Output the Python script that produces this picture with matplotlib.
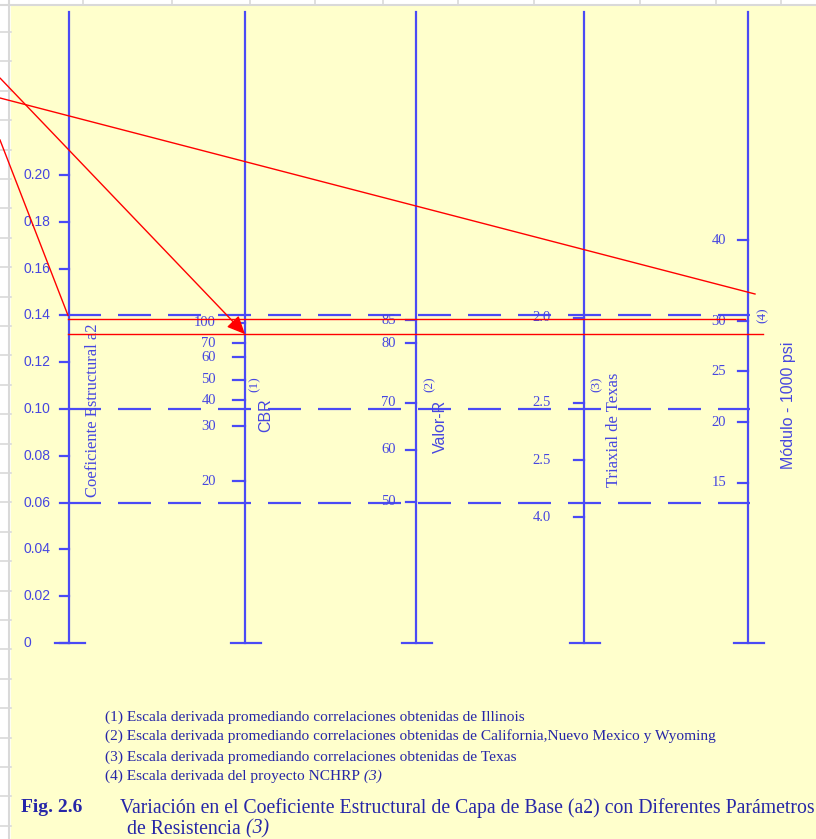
import matplotlib.pyplot as plt
import numpy as np

# nomograph scales: each tick value with its equivalent a2 on the common vertical
a2_ticks = [0, 0.02, 0.04, 0.06, 0.08, 0.10, 0.12, 0.14, 0.16, 0.18, 0.20]
a2_labels = ['0', '0.02', '0.04', '0.06', '0.08', '0.10', '0.12', '0.14',
             '0.16', '0.18', '0.20']

cbr_labels = ['100', '70', '60', '50', '40', '30', '20']
cbr_a2 = [0.1368, 0.1282, 0.1222, 0.1124, 0.1038, 0.0927, 0.0692]

valor_r_labels = ['85', '80', '70', '60', '50']
valor_r_a2 = [0.1380, 0.1282, 0.1026, 0.0825, 0.0603]

texas_labels = ['2.0', '2.5', '2.5', '4.0']
texas_a2 = [0.1389, 0.1026, 0.0782, 0.0538]

modulo_labels = ['40', '30', '25', '20', '15']
modulo_a2 = [0.1722, 0.1376, 0.1162, 0.0944, 0.0684]

ref_a2 = [0.06, 0.10, 0.14]

# worked example (red construction lines)
example_a2 = 0.132
example_a2_top = 0.1385

footnotes = [
    '(1) Escala derivada promediando correlaciones obtenidas de Illinois',
    '(2) Escala derivada promediando correlaciones obtenidas de California,Nuevo Mexico y Wyoming',
    '(3) Escala derivada promediando correlaciones obtenidas de Texas',
    '(4) Escala derivada del proyecto NCHRP',
]

W, H = 816, 839
Y0, SCALE = 643, 2340.0   # pixel row of a2 = 0, pixels per unit a2


def row(y):
    return (Y0 - y) / SCALE


fig = plt.figure(figsize=(W / 100, H / 100), dpi=100)
fig.patch.set_facecolor('white')
ax = fig.add_axes([0, 0, 1, 1])
ax.set_xlim(0, W)
ax.set_ylim(row(H), row(0))
ax.axis('off')

# sheet background
ax.fill_between([11, W], row(H), row(5), color='#ffffcc', zorder=0)
ax.plot([0, W], [row(4.5)] * 2, color='#d9d9d9', lw=1.5, zorder=1)
ax.plot([8.5, 8.5], [row(0), row(H)], color='#d9d9d9', lw=1.5, zorder=1)
for xc in [83, 172, 250, 315, 383, 458, 534, 640, 716, 781]:
    ax.plot([xc, xc], [row(0), row(4)], color='#d9d9d9', lw=1.2, zorder=1)
for yr in np.arange(32, H, 29.4):
    ax.plot([0, 11], [row(yr)] * 2, color='#d9d9d9', lw=1.2, zorder=1)

blue = '#4a4af5'
tick_blue = '#4646e0'
text_blue = '#2626a8'
axis_x = [69, 245, 416, 584, 748]
top = row(12)

for x in axis_x:
    ax.plot([x, x], [0.0, top], color=blue, lw=1.6, zorder=3)
    ax.plot([x - 14, x + 16], [0.0, 0.0], color=blue, lw=1.6, zorder=3)

# dashed reference lines (33 px dash, 17 px gap, phase set so a dash starts at x=68)
for v in ref_a2:
    ax.plot([60, 750], [v, v], color=blue, lw=1.6, zorder=2,
            linestyle=(18.9, (14.85, 7.65)))

# a2 scale
for v, lab in zip(a2_ticks, a2_labels):
    ax.plot([60, 69], [v, v], color=blue, lw=1.6, zorder=3)
    ax.text(23, v, lab, ha='left', va='center', fontsize=10,
            family='Liberation Sans', color=tick_blue)


def side_scale(x, values, labels, label_right, tick_len):
    for v, lab in zip(values, labels):
        ax.plot([x - tick_len, x], [v, v], color=blue, lw=1.6, zorder=3)
        ax.text(label_right, v, lab, ha='right', va='center', fontsize=10.5,
                family='Liberation Serif', color=tick_blue, zorder=4)


side_scale(245, cbr_a2, cbr_labels, 216, 12)
side_scale(416, valor_r_a2, valor_r_labels, 396, 10)
side_scale(584, texas_a2, texas_labels, 551, 10)
side_scale(748, modulo_a2, modulo_labels, 726, 10)

# axis titles
rot = dict(rotation=90, ha='center', va='center', color=tick_blue)
ax.text(93, row(410), 'Coeficiente Estructural a2', fontsize=12,
        family='Liberation Serif', **rot)
ax.text(255, row(384), '(1)', fontsize=9.5, family='Liberation Serif', **rot)
ax.text(266, row(415), 'CBR', fontsize=11.5, family='Liberation Sans', **rot)
ax.text(430, row(384), '(2)', fontsize=9.5, family='Liberation Serif', **rot)
ax.text(440, row(426), 'Valor-R', fontsize=11.5, family='Liberation Sans', **rot)
ax.text(597, row(384), '(3)', fontsize=9.5, family='Liberation Serif', **rot)
ax.text(614, row(430), 'Triaxial de Texas', fontsize=12,
        family='Liberation Serif', **rot)
ax.text(763, row(315), '(4)', fontsize=9.5, family='Liberation Serif', **rot)
ax.text(788, row(405), 'Módulo - 1000 psi', fontsize=11.5,
        family='Liberation Sans', **rot)

# red construction lines
red = '#ff0000'
ax.plot([0, 755], [row(98), row(294)], color=red, lw=1.0, zorder=5)
ax.plot([0, 68], [row(140), 0.14], color=red, lw=1.0, zorder=5)
ax.plot([68, 745], [example_a2_top] * 2, color=red, lw=1.0, zorder=5)
ax.plot([68, 763], [example_a2] * 2, color=red, lw=1.0, zorder=5)
ax.annotate('', xy=(245, example_a2), xytext=(0, row(78)),
            arrowprops=dict(arrowstyle='-|>,head_length=0.55,head_width=0.25',
                            color=red, lw=1.0, mutation_scale=20,
                            shrinkA=0, shrinkB=0), zorder=6)

# notes
foot_y = [717, 736, 757, 776]
last = None
for y, txt in zip(foot_y, footnotes):
    last = ax.text(105, row(y), txt, ha='left', va='center', fontsize=11.1,
                   family='Liberation Serif', color=text_blue)
ax.annotate(' (3)', xy=(1, 0), xycoords=last, ha='left', va='bottom',
            fontsize=11.1, family='Liberation Serif', style='italic',
            color=text_blue)

ax.text(21, row(808), 'Fig. 2.6', ha='left', va='center', fontsize=14,
        family='Liberation Serif', weight='bold', color=text_blue)
ax.text(120, row(808),
        'Variación en el Coeficiente Estructural de Capa de Base (a2) con Diferentes Parámetros',
        ha='left', va='center', fontsize=14.2, family='Liberation Serif',
        color=text_blue)
t2 = ax.text(127, row(829), 'de Resistencia', ha='left', va='center',
             fontsize=14.2, family='Liberation Serif', color=text_blue)
ax.annotate(' (3)', xy=(1, 0), xycoords=t2, ha='left', va='bottom',
            fontsize=14.2, family='Liberation Serif', style='italic',
            color=text_blue)

fig.savefig('out.png', dpi=100)
